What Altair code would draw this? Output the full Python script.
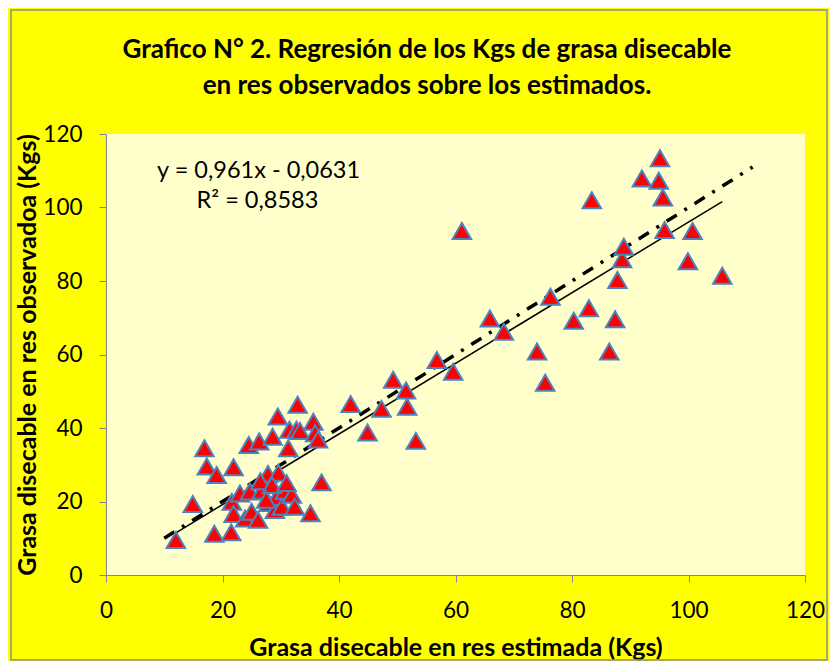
import altair as alt
import pandas as pd

est = [12.0, 14.9, 16.9, 17.3, 18.6, 19.0, 21.5, 21.6, 21.9, 21.9, 23.0, 23.9, 24.5, 24.7,
       25.0, 26.1, 26.3, 26.7, 27.8, 27.9, 28.6, 29.0, 29.3, 29.5, 29.6, 30.2, 30.7, 31.3,
       31.5, 31.9, 32.4, 32.7, 32.9, 33.3, 35.1, 35.6, 35.9, 36.4, 37.0, 26.5, 28.5, 27.5,
       31.0, 42.0, 44.9, 47.3, 49.3, 51.5, 51.7, 53.2, 56.8, 59.6, 61.1, 65.9, 68.3, 74.0,
       75.4, 76.3, 80.3, 82.9, 83.4, 86.4, 87.4, 87.8, 88.6, 88.9, 92.0, 94.9, 95.1, 95.6,
       95.9, 99.9, 100.7, 105.8]
obs = [9.5, 19.3, 34.5, 29.5, 11.2, 27.2, 11.6, 19.9, 29.3, 16.6, 22.2, 15.4, 35.4, 22.7,
       17.2, 15.0, 36.3, 22.9, 27.5, 19.6, 37.6, 17.7, 21.2, 43.1, 27.8, 18.6, 22.9, 34.5,
       39.5, 21.8, 18.6, 39.5, 46.3, 39.2, 16.8, 41.7, 38.6, 36.9, 25.2, 25.5, 24.5, 20.5,
       25.0, 46.5, 38.8, 45.2, 53.1, 50.2, 45.8, 36.5, 58.5, 55.3, 93.6, 69.8, 66.2, 60.8,
       52.3, 75.7, 69.2, 72.6, 102.0, 60.8, 69.6, 80.3, 85.9, 89.3, 107.9, 107.3, 113.4, 102.7,
       93.9, 85.4, 93.6, 81.4]

slope = 0.961
intercept = -0.0631
eq_lines = ["y = 0,961x - 0,0631", "R² = 0,8583"]
eq_x = [26.2, 26.0]
eq_y = [110.0, 101.8]

ref_x = [10, 111]  # 1:1 reference line

title_lines = ["Grafico N° 2. Regresión de los Kgs de grasa disecable",
               "en res observados sobre los estimados."]
x_title = "Grasa disecable en res estimada (Kgs)"
y_title = "Grasa disecable en res observadoa (Kgs)"
ticks = [0, 20, 40, 60, 80, 100, 120]

FONT = "Lato"

pts = pd.DataFrame({"est": est, "obs": obs})
fit = pd.DataFrame({"est": [min(est), max(est)]})
fit["obs"] = slope * fit["est"] + intercept
ref = pd.DataFrame({"est": ref_x, "obs": ref_x})
eq = pd.DataFrame({"est": eq_x, "obs": eq_y, "label": eq_lines})

xs = alt.Scale(domain=[0, 120], nice=False)
ys = alt.Scale(domain=[0, 120], nice=False)

x_axis = alt.Axis(values=ticks, grid=False, domainColor="#868686", tickColor="#868686",
                  tickSize=7, labelFontSize=22.5, labelFont=FONT, labelColor="black",
                  labelPadding=17, title=x_title, titleFont=FONT, titleFontSize=25,
                  titleFontWeight="bold", titleColor="black", titlePadding=14, labelFlush=False)
y_axis = alt.Axis(values=ticks, grid=False, domainColor="#868686", tickColor="#868686",
                  tickSize=7, labelFontSize=22.5, labelFont=FONT, labelColor="black",
                  labelPadding=17, title=y_title, titleFont=FONT, titleFontSize=25,
                  titleFontWeight="bold", titleColor="black", titlePadding=2, labelFlush=False)

base_x = alt.X("est:Q", scale=xs, axis=x_axis)
base_y = alt.Y("obs:Q", scale=ys, axis=y_axis)

one = alt.Data(values=[{"a": 1}])

border = alt.Chart(one).mark_rect(
    fill="transparent", stroke="#8c8c8c", strokeWidth=1.5
).encode(x=alt.value(-95), x2=alt.value(721), y=alt.value(-124), y2=alt.value(526))

title1 = alt.Chart(one).mark_text(font=FONT, fontSize=26, fontWeight="bold",
                                  color="black", baseline="middle").encode(
    text=alt.value(title_lines[0]), x=alt.value(321), y=alt.value(-84))
title2 = alt.Chart(one).mark_text(font=FONT, fontSize=26, fontWeight="bold",
                                  color="black", baseline="middle").encode(
    text=alt.value(title_lines[1]), x=alt.value(321), y=alt.value(-48))

ref_line = alt.Chart(ref).mark_line(color="black", strokeWidth=3.5,
                                    strokeDash=[12, 9, 3, 9]).encode(x=base_x, y=base_y)
fit_line = alt.Chart(fit).mark_line(color="black", strokeWidth=1.5).encode(x=base_x, y=base_y)
points = alt.Chart(pts).mark_point(shape="triangle-up", filled=True, fill="#FF0000",
                                   stroke="#4F81BD", strokeWidth=2, size=340,
                                   opacity=1).encode(x=base_x, y=base_y)
text = alt.Chart(eq).mark_text(font=FONT, fontSize=23.5, color="black").encode(
    x=alt.X("est:Q", scale=xs), y=alt.Y("obs:Q", scale=ys), text="label:N")

chart = alt.layer(border, title1, title2, ref_line, fit_line, points, text).properties(
    width=699, height=441,
    padding={"left": 98, "top": 126, "right": 24, "bottom": 86},
    autosize=alt.AutoSizeParams(type="none"),
).configure(background="#FFFF00").configure_view(fill="#FFFFCC", strokeWidth=0)

chart.save("out.html", embed_options={"renderer": "svg", "actions": False})
